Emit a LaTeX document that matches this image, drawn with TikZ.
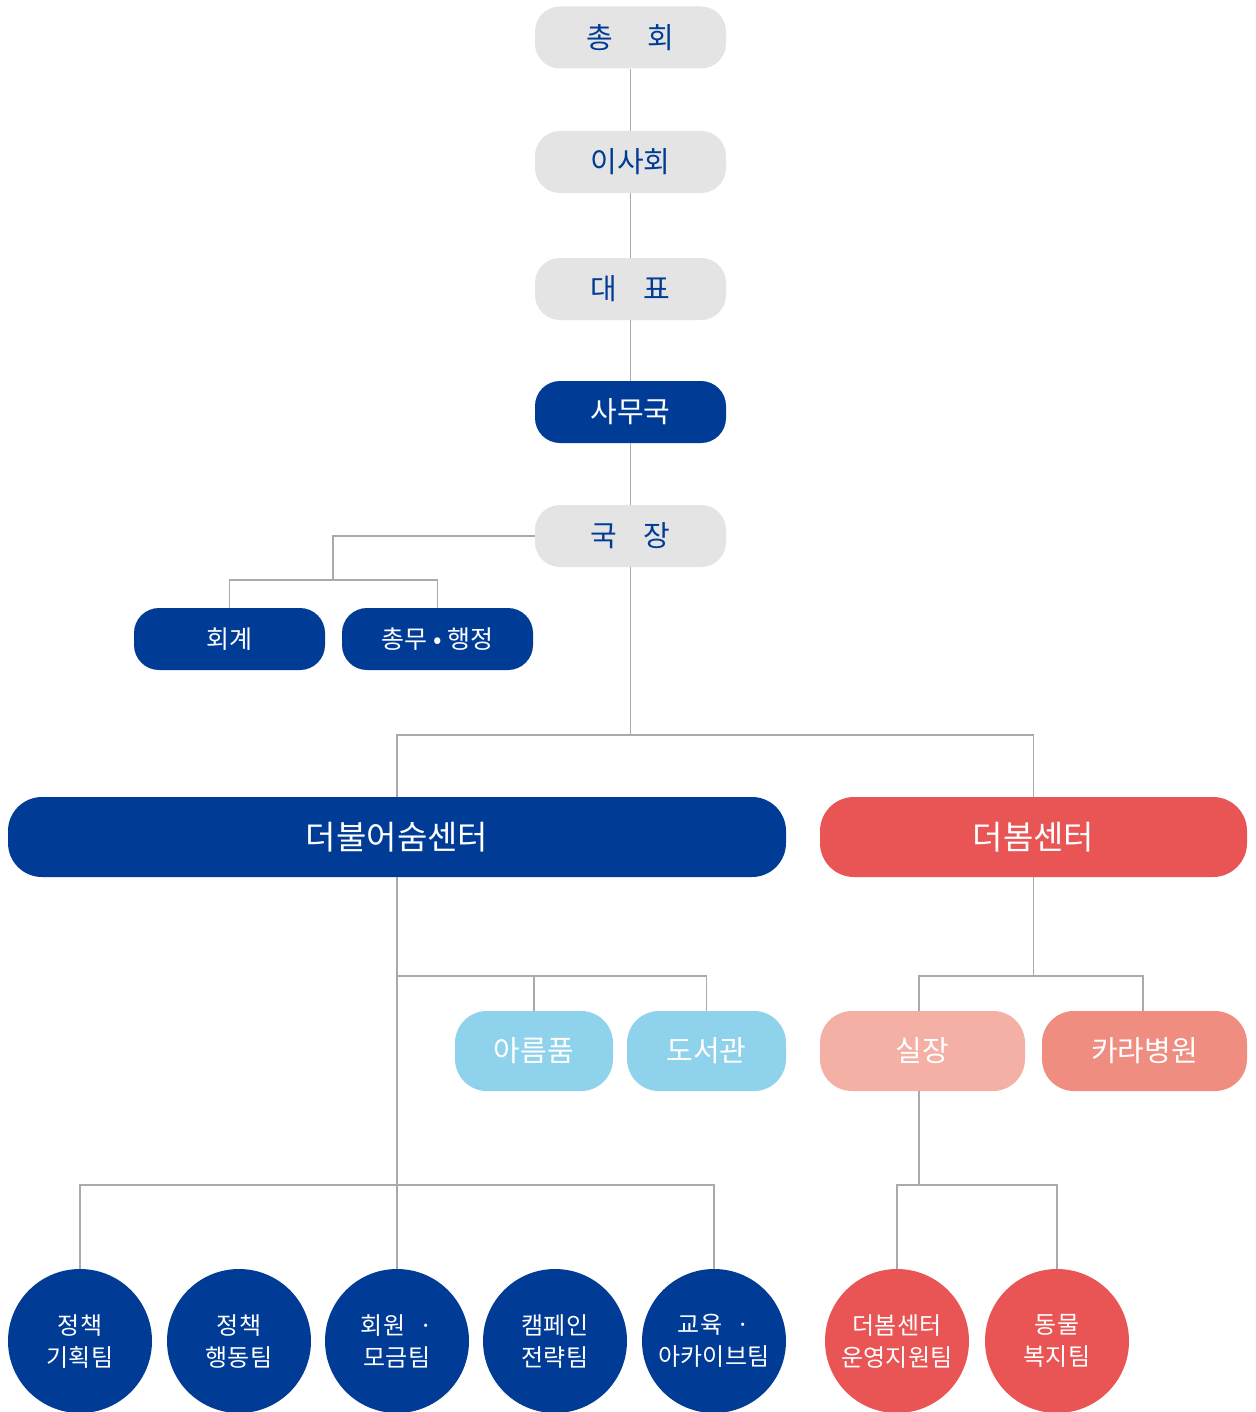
\documentclass[tikz,border=0pt]{standalone}
\usepackage{fontspec}
\setmainfont{Noto Sans CJK KR}
\definecolor{navy}{HTML}{003C96}
\definecolor{graybg}{HTML}{E4E4E4}
\definecolor{redc}{HTML}{E95455}
\definecolor{skyc}{HTML}{8ED2EC}
\definecolor{pinkc}{HTML}{F4B0A5}
\definecolor{salmonc}{HTML}{F08D81}
\definecolor{linec}{HTML}{AAAAAA}
\begin{document}
\begin{tikzpicture}[x=0.5pt,y=-0.5pt,
  topbox/.style={fill=graybg,rounded corners=12.5pt,minimum width=95.5pt,minimum height=31pt,inner sep=0pt,text=navy,font=\fontsize{14.5}{16}\selectfont},
  darkbox/.style={fill=navy,rounded corners=12.5pt,minimum width=95.5pt,minimum height=31pt,inner sep=0pt,text=white,font=\fontsize{14.5}{16}\selectfont},
  smallbox/.style={fill=navy,rounded corners=12.5pt,minimum width=95.5pt,minimum height=31pt,inner sep=0pt,text=white,font=\fontsize{12.5}{15}\selectfont},
  centerbox/.style={rounded corners=17pt,minimum height=40pt,inner sep=0pt,text=white,font=\fontsize{16.5}{18}\selectfont},
  subbox/.style={rounded corners=16pt,minimum height=40pt,inner sep=0pt,text=white,font=\fontsize{14.5}{16}\selectfont},
  team/.style={circle,minimum size=72pt,inner sep=0pt,text=white,align=center,font=\fontsize{12}{16}\selectfont},
  conn/.style={draw=linec,line width=0.8pt}
]
\useasboundingbox (0,0) rectangle (1255,1412);
\fill[white] (0,0) rectangle (1255,1412);

\coordinate (j1) at (333,536);
\coordinate (j2) at (333,580);
\coordinate (j3) at (630.5,735);
\coordinate (j4) at (397,976);
\coordinate (j5) at (1033.5,976);
\coordinate (j6) at (397,1185);
\coordinate (j7) at (919,1185);

\node[topbox] (chonghoe) at (630.5,37.5) {총\hspace{1.2em}회};
\node[topbox] (isahoe) at (630.5,162) {이사회};
\node[topbox] (daepyo) at (630.5,289) {대\hspace{0.9em}표};
\node[darkbox] (samuguk) at (630.5,412) {사무국};
\node[topbox] (gukjang) at (630.5,536) {국\hspace{0.9em}장};

\node[smallbox] (hoegye) at (229.5,639) {회계};
\node[smallbox] (chongmu) at (437.5,639) {총무 • 행정};

\node[centerbox,fill=navy,minimum width=389pt] (deobul) at (397,837) {더불어숨센터};
\node[centerbox,fill=redc,minimum width=213.5pt] (deobom) at (1033.5,837) {더봄센터};

\node[subbox,fill=skyc,minimum width=79pt] (areum) at (534,1051) {아름품};
\node[subbox,fill=skyc,minimum width=79.5pt] (doseo) at (706.5,1051) {도서관};
\node[subbox,fill=pinkc,minimum width=102.5pt] (siljang) at (922.5,1051) {실장};
\node[subbox,fill=salmonc,minimum width=102.5pt] (kara) at (1144.5,1051) {카라병원};

\node[team,fill=navy] (t1) at (80,1341) {정책\\기획팀};
\node[team,fill=navy] (t2) at (239,1341) {정책\\행동팀};
\node[team,fill=navy] (t3) at (397,1341) {회원\hspace{0.6em}·\\모금팀};
\node[team,fill=navy] (t4) at (555,1341) {캠페인\\전략팀};
\node[team,fill=navy] (t5) at (714,1341) {교육\hspace{0.6em}·\\아카이브팀};
\node[team,fill=redc] (t6) at (897,1341) {더봄센터\\운영지원팀};
\node[team,fill=redc] (t7) at (1057,1341) {동물\\복지팀};

\draw[conn] (chonghoe.south) -- (isahoe.north);
\draw[conn] (isahoe.south) -- (daepyo.north);
\draw[conn] (daepyo.south) -- (samuguk.north);
\draw[conn] (samuguk.south) -- (gukjang.north);
\draw[conn] (gukjang.west) -- (j1) -- (j2);
\draw[conn] (j2) -| (hoegye.north);
\draw[conn] (j2) -| (chongmu.north);
\draw[conn] (gukjang.south) -- (j3);
\draw[conn] (j3) -| (deobul.north);
\draw[conn] (j3) -| (deobom.north);
\draw[conn] (deobul.south) -- (j4) -- (j6) -- (t3.north);
\draw[conn] (j4) -| (areum.north);
\draw[conn] (j4) -| (doseo.north);
\draw[conn] (deobom.south) -- (j5);
\draw[conn] (j5) -| (siljang.north -| 919,0);
\draw[conn] (j5) -| (kara.north -| 1143,0);
\draw[conn] (j6) -| (t1.north);
\draw[conn] (j6) -| (t5.north);
\draw[conn] (siljang.south -| j7) -- (j7);
\draw[conn] (j7) -| (t6.north);
\draw[conn] (j7) -| (t7.north);
\end{tikzpicture}
\end{document}
